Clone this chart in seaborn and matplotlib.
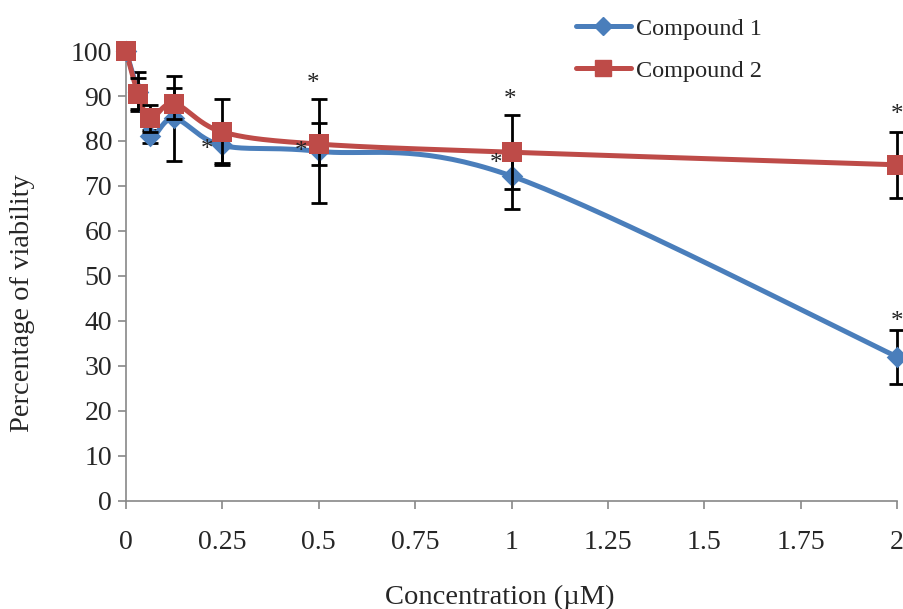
import numpy as np
import pandas as pd
import matplotlib
matplotlib.use("Agg")
import matplotlib.pyplot as plt
import seaborn as sns
from matplotlib.lines import Line2D

# ---- data ----
conc = [0, 0.03125, 0.0625, 0.125, 0.25, 0.5, 1, 2]
comp1 = [100, 91, 81, 85, 79, 77.7, 72.2, 32]
comp1_err = [0, 4.3, 1.5, 9.5, 3.8, 11.6, 7.3, 6]
comp2 = [100, 90.5, 85, 88.3, 82, 79.3, 77.5, 74.7]
comp2_err = [0, 3.5, 3, 3.5, 7.3, 4.7, 8.2, 7.3]
series_names = ["Compound 1", "Compound 2"]
xticks = [0, 0.25, 0.5, 0.75, 1, 1.25, 1.5, 1.75, 2]
xtick_labels = ["0", "0.25", "0.5", "0.75", "1", "1.25", "1.5", "1.75", "2"]
yticks = [0, 10, 20, 30, 40, 50, 60, 70, 80, 90, 100]
star_x = [0.21, 0.484, 0.455, 0.997, 0.96, 2.0, 2.0]
star_y = [78.0, 92.6, 77.5, 89.1, 74.8, 85.8, 39.7]

BLUE = "#4A7EBB"
RED = "#BE4B48"


def smooth(xs, ys, n=40):
    """Excel-like smoothed line (Catmull-Rom Bezier)."""
    P = np.column_stack([xs, ys]).astype(float)
    out = [P[0]]
    for i in range(len(P) - 1):
        p0 = P[i - 1] if i > 0 else P[i]
        p1 = P[i]
        p2 = P[i + 1]
        p3 = P[i + 2] if i + 2 < len(P) else P[i + 1]
        c1 = p1 + (p2 - p0) / 6.0
        c2 = p2 - (p3 - p1) / 6.0
        t = np.linspace(0, 1, n)[1:, None]
        seg = ((1 - t) ** 3) * p1 + 3 * ((1 - t) ** 2) * t * c1 + 3 * (1 - t) * t ** 2 * c2 + t ** 3 * p2
        out.extend(seg)
    out = np.array(out)
    return out[:, 0], out[:, 1]


sns.set_theme(style="white")
plt.rcParams["font.family"] = ["Liberation Serif", "DejaVu Serif"]

fig = plt.figure(figsize=(9.04, 6.09), dpi=100)
ax = fig.add_axes([0.1394, 0.1778, 0.853, 0.7384])

markers = ["D", "s"]
msizes = [11, 15]
colors = [BLUE, RED]
vals = [comp1, comp2]
errs = [comp1_err, comp2_err]

for k in range(2):
    sx, sy = smooth(conc, vals[k])
    df_line = pd.DataFrame({"x": sx, "y": sy})
    sns.lineplot(data=df_line, x="x", y="y", ax=ax, color=colors[k], lw=3.6,
                 sort=False, estimator=None, zorder=3 + k, clip_on=False)

# error bars
for k in range(2):
    ax.errorbar(conc, vals[k], yerr=errs[k], fmt="none", ecolor="black",
                elinewidth=2.0, capsize=6, capthick=2.0, zorder=2 + 3 * k,
                clip_on=False)

for k in range(2):
    df_pts = pd.DataFrame({"x": conc, "y": vals[k]})
    sns.scatterplot(data=df_pts, x="x", y="y", ax=ax, marker=markers[k],
                    s=msizes[k] ** 2, color=colors[k], edgecolor=colors[k],
                    linewidth=0, zorder=4 + k, clip_on=False)

for sxp, syp in zip(star_x, star_y):
    ax.text(sxp, syp, "*", ha="center", va="center", fontsize=18,
            color="#222222", zorder=10, clip_on=False)

ax.set_xlim(0, 2)
ax.set_ylim(0, 100)
ax.set_xticks(xticks)
ax.set_xticklabels(xtick_labels)
ax.set_yticks(yticks)
ax.tick_params(axis="x", direction="out", length=6, width=1.2, color="#888888",
               pad=15, labelsize=20, bottom=True)
ax.tick_params(axis="y", direction="out", length=6, width=1.2, color="#888888",
               pad=4, labelsize=20, left=True)
for s in ["top", "right"]:
    ax.spines[s].set_visible(False)
for s in ["left", "bottom"]:
    ax.spines[s].set_color("#888888")
    ax.spines[s].set_linewidth(1.2)

ax.set_xlabel("Concentration (\u00b5M)", fontsize=20.5)
ax.xaxis.set_label_coords(0.485, -0.186)
ax.set_ylabel("Percentage of viability", fontsize=20.5)
ax.yaxis.set_label_coords(-0.118, 0.44)

handles = [
    Line2D([0], [0], color=BLUE, lw=3.6, marker="D", markersize=9),
    Line2D([0], [0], color=RED, lw=3.6, marker="s", markersize=12),
]
fig.legend(handles, series_names, loc="upper left", bbox_to_anchor=(0.621, 0.995),
           frameon=False, fontsize=17.5, handlelength=2.25, handletextpad=0.2,
           labelspacing=0.82, borderpad=0.1)

fig.savefig("out.png", dpi=100, facecolor="white")
